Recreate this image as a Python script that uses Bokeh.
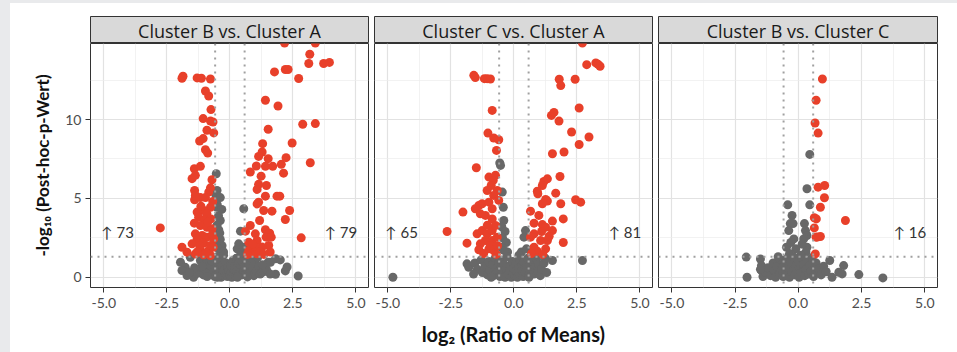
from bokeh.plotting import figure
from bokeh.layouts import row, column
from bokeh.models import Range1d, FixedTicker, NumeralTickFormatter, Span, Div
from bokeh.core.properties import value
from bokeh.embed import file_html
from bokeh.resources import INLINE

# ---------------- data ----------------
panel_titles = ["Cluster B vs. Cluster A", "Cluster C vs. Cluster A", "Cluster B vs. Cluster C"]
left_labels = ["\u2191 73", "\u2191 65", ""]
right_labels = ["\u2191 79", "\u2191 81", "\u2191 16"]

FC_CUT = 0.585   # log2(1.5)
P_CUT = 1.301    # -log10(0.05)

x_ticks = [-5.0, -2.5, 0.0, 2.5, 5.0]
x_minor = [-3.75, -1.25, 1.25, 3.75]
y_ticks = [0, 5, 10]
y_minor = [2.5, 7.5, 12.5]

# Cluster B vs. Cluster A : significant (red) and not significant (grey)
sig_ba = [(-1.86,12.74),(-1.90,12.62),(-1.30,12.64),(-1.13,12.62),(-0.77,12.57),(-0.97,11.81),(-0.84,11.49),
          (-0.75,10.63),(-1.06,10.06),(-0.77,9.9),(-0.67,9.84),(-0.91,9.32),(-0.64,9.15),(-1.06,8.79),(-1.20,8.64),
          (-0.97,8.08),(-0.88,7.87),(-1.41,6.88),(-1.17,7.03),(-1.50,6.25),(-1.37,6.46),(-0.71,6.18),(-0.77,5.67),
          (-0.84,5.40),(-1.40,5.50),(-1.37,5.19),(-1.40,4.91),(-1.17,5.05),(-0.97,5.05),(-0.77,4.44),(-1.04,4.23),
          (-1.30,4.13),(-0.91,4.02),(-1.24,3.81),(-1.01,3.64),(-0.75,3.70),(-1.41,3.43),(-1.17,3.28),(-0.91,3.17),
          (-0.71,3.07),(-1.37,2.75),(-1.10,2.65),(-0.91,2.54),(-1.30,2.43),(-0.64,2.43),(-1.50,2.12),(-1.04,2.16),
          (-0.77,2.01),(-1.17,1.70),(-0.84,1.70),(-1.37,1.48),(-0.77,1.38),(-1.04,1.42),(-1.70,1.59),(-1.90,1.90),
          (-2.76,3.13),(-0.66,1.9),(-0.95,1.55),(-1.2,2.0),(-0.7,2.7),(-0.88,3.5),(-1.15,4.5),(-0.68,4.8),(-1.3,1.6),
          (2.17,14.85),(3.39,14.85),(3.17,14.14),(3.13,13.55),(3.72,13.55),(3.95,13.62),(1.77,13.02),(2.20,13.17),
          (2.31,13.17),(2.73,12.6),(1.41,11.22),(1.91,10.86),(2.89,9.70),(3.39,9.74),(1.52,9.38),(2.47,8.51),
          (1.30,8.47),(1.28,7.94),(1.14,7.66),(1.52,7.52),(1.41,7.03),(1.70,7.03),(1.05,7.05),(2.04,7.16),(2.23,7.58),
          (3.19,7.26),(2.13,6.6),(0.81,6.67),(1.24,6.41),(1.45,5.82),(1.14,5.89),(1.08,5.57),(1.41,5.14),(1.87,5.14),
          (1.98,5.14),(1.14,4.76),(1.08,4.65),(1.34,4.23),(1.67,4.19),(2.37,4.23),(2.20,3.66),(1.18,3.6),(0.81,3.28),
          (1.41,3.01),(1.58,2.79),(1.44,2.54),(1.64,2.54),(0.62,2.92),(1.01,2.75),(1.08,2.33),(0.75,2.22),(1.54,2.01),
          (1.28,1.91),(0.94,1.70),(1.08,1.49),(2.83,2.5),(0.75,1.7),(0.8,1.5),(1.0,1.95),(0.7,1.45),(1.2,1.6),
          (1.35,1.45),(0.9,2.1),(1.6,1.6)]
ns_ba = [(-0.54,6.56),(-0.51,5.5),(-0.55,5.2),(-0.38,5.05),(-0.5,4.6),(-0.51,4.44),(-0.32,4.3),(-0.45,3.9),
         (-0.38,3.6),(-0.51,3.3),(-0.44,3.0),(-0.58,2.7),(-0.38,2.4),(-0.31,2.0),(-0.45,1.8),(-0.25,1.6),(-0.55,2.2),
         (-0.4,2.8),(0.55,4.34),(0.42,2.92),(0.35,2.12),(0.29,1.8),(0.49,1.6),(0.55,1.9),
         (-1.96,0.95),(-1.77,0.63),(-1.57,1.27),(-1.9,0.43),(-1.70,0.11),(-1.44,0.0),(-1.17,1.06),(-1.17,0.5),
         (-0.97,0.85),(-1.30,0.25),(-1.05,0.15),(-0.90,0.4),(-0.85,1.2),(-0.75,0.7),(-0.70,1.0),(-0.65,0.3),
         (-0.60,0.05),(-0.55,0.6),(-0.50,1.3),(-0.48,0.9),(-0.45,0.2),(-0.40,0.5),(-0.38,1.1),(-0.35,0.0),
         (-0.30,0.75),(-0.28,0.35),(-0.25,1.4),(-0.22,0.1),(-0.20,0.55),(-0.15,0.9),(-0.12,0.25),(-0.10,0.05),
         (-0.08,0.65),(-0.05,0.4),(0.0,0.15),(0.02,0.8),(0.05,0.3),(0.08,0.0),(0.10,0.55),(0.12,1.05),(0.15,0.2),
         (0.18,0.45),(0.20,0.7),(0.22,0.05),(0.25,1.2),(0.28,0.35),(0.30,0.6),(0.33,0.1),(0.35,0.9),(0.38,0.25),
         (0.40,1.35),(0.42,0.5),(0.45,0.75),(0.48,0.15),(0.50,1.0),(0.55,0.4),(0.58,0.7),(0.62,0.2),(0.65,1.1),
         (0.70,0.5),(0.75,0.85),(0.80,0.3),(0.85,1.2),(0.90,0.6),(0.95,0.1),(1.0,0.9),(1.05,0.4),(1.10,1.25),
         (1.15,0.7),(1.2,0.2),(1.28,0.3),(1.34,0.36),(1.45,0.5),(1.52,0.95),(1.61,0.95),(1.81,1.17),(1.81,0.19),
         (2.0,1.1),(2.2,0.4),(2.27,0.65),(2.71,0.08),(-0.50,0.0),(0.3,0.0),(-0.9,0.05),(0.7,0.02),(-1.1,0.7),
         (1.3,0.8),(-1.4,0.6),(-1.6,0.3),(1.6,0.2)]

# Cluster C vs. Cluster A
sig_ca = [(-1.59,12.8),(-1.53,12.66),(-1.17,12.59),(-1.06,12.59),(-0.93,12.57),(-0.86,10.58),(-1.03,9.14),
          (-0.80,8.83),(-0.60,8.72),(-0.69,8.04),(-1.49,6.94),(-0.99,6.35),(-0.82,6.14),(-0.73,6.46),(-0.90,5.82),
          (-1.06,5.50),(-0.66,5.50),(-0.80,5.19),(-1.26,4.66),(-1.39,4.55),(-0.99,4.76),(-0.60,4.87),(-2.02,4.13),
          (-1.53,4.34),(-1.33,4.02),(-1.13,3.92),(-0.86,4.34),(-0.86,3.70),(-2.65,2.90),(-1.46,2.75),(-1.26,2.96),
          (-1.06,2.75),(-0.86,2.96),(-0.73,3.28),(-1.13,2.33),(-0.86,2.33),(-0.66,2.54),(-1.86,2.16),(-1.33,2.12),
          (-1.39,1.74),(-0.99,1.80),(-0.80,1.69),(-0.93,2.01),(-1.2,1.5),(-0.7,1.45),(-1.05,3.3),(-0.65,2.0),
          (2.72,14.85),(2.89,13.48),(3.25,13.59),(3.34,13.5),(3.42,13.38),(1.80,12.55),(1.86,12.15),(2.43,12.55),
          (2.59,10.73),(1.49,10.26),(1.59,10.45),(1.79,9.9),(2.29,9.21),(2.98,8.89),(2.59,8.42),(1.53,7.83),
          (1.99,7.94),(1.83,6.39),(1.19,6.07),(1.33,6.24),(1.13,5.82),(0.93,5.46),(0.95,5.29),(1.66,5.33),
          (1.26,4.93),(1.33,4.83),(1.13,4.66),(1.86,4.66),(2.45,4.91),(2.65,4.76),(0.66,4.19),(0.99,3.92),
          (0.80,3.43),(1.13,3.34),(1.26,3.17),(1.53,3.56),(1.53,2.96),(1.96,3.70),(1.96,2.20),(0.80,2.75),
          (1.06,2.33),(0.80,1.90),(1.33,2.33),(0.93,1.65),(1.26,1.80),(0.66,2.54),(1.4,2.6),(1.1,2.9),(0.7,1.5),
          (1.15,1.45)]
ns_ca = [(-0.56,7.24),(-0.53,7.09),(-0.46,5.40),(-0.42,4.44),(-0.40,3.6),(-0.48,3.2),(-0.35,2.9),(-0.45,2.5),
         (-0.3,2.2),(-0.5,1.9),(-0.25,1.6),(-0.4,1.7),(0.46,2.96),(0.40,2.54),(0.3,1.6),(0.5,1.8),(0.2,1.4),
         (2.72,1.06),(-4.80,0.0),(-1.86,0.85),(-1.79,0.63),(1.53,1.06),
         (-1.55,0.9),(-1.45,0.5),(-1.3,1.1),(-1.25,0.3),(-1.15,0.7),(-1.05,0.15),(-1.0,1.0),(-0.95,0.45),
         (-0.85,0.8),(-0.8,0.1),(-0.75,1.2),(-0.7,0.55),(-0.65,0.3),(-0.6,0.9),(-0.55,0.05),(-0.5,0.65),
         (-0.45,1.1),(-0.42,0.3),(-0.38,0.8),(-0.35,0.0),(-0.3,0.5),(-0.27,1.3),(-0.22,0.2),(-0.18,0.7),
         (-0.15,0.4),(-0.1,0.0),(-0.06,1.0),(-0.03,0.25),(0.0,0.6),(0.04,0.1),(0.08,0.85),(0.1,0.35),(0.14,0.0),
         (0.18,0.55),(0.22,1.15),(0.25,0.2),(0.3,0.7),(0.33,0.4),(0.37,0.05),(0.4,0.95),(0.45,0.3),(0.5,0.6),
         (0.55,1.2),(0.6,0.15),(0.65,0.8),(0.7,0.45),(0.75,1.0),(0.8,0.2),(0.85,0.65),(0.9,1.15),(0.95,0.35),
         (1.0,0.8),(1.05,0.1),(1.1,0.5),(1.2,0.9),(1.3,0.3),(-1.6,0.2),(1.25,1.2),(-0.9,0.0),(0.6,0.0)]

# Cluster B vs. Cluster C
sig_bc = [(0.95,12.57),(0.70,11.22),(0.66,9.78),(0.78,9.14),(0.78,5.71),(1.04,5.82),(1.03,5.04),(0.87,4.44),
          (0.63,3.77),(0.71,3.70),(1.86,3.60),(0.63,3.13),(0.70,2.54),(0.87,2.58),(0.75,2.55),(0.67,1.48)]
ns_bc = [(0.45,7.79),(0.34,5.61),(-0.42,4.59),(0.45,4.59),(-0.25,3.92),(-0.32,3.4),(-0.21,3.4),(0.24,3.4),
         (-0.38,2.96),(0.28,2.96),(0.34,2.65),(-0.18,2.43),(0.21,2.43),(-0.47,1.9),(0.34,1.9),(-2.06,1.28),
         (-2.03,0.0),(-1.5,1.16),(-1.46,0.74),(-1.46,0.42),(1.24,1.06),(1.79,0.74),(1.73,0.21),(1.60,0.32),
         (2.39,0.17),(3.34,-0.04),(1.33,0.0),(-0.3,2.2),(0.15,2.1),(-0.1,1.8),(0.3,1.6),(-0.35,1.5),(0.1,1.4),
         (-1.4,0.05),(-1.3,0.3),(-1.2,0.6),(-1.1,0.1),(-1.0,0.9),(-0.95,0.4),(-0.9,0.0),(-0.85,0.7),(-0.75,0.2),
         (-0.7,1.1),(-0.65,0.5),(-0.6,0.05),(-0.55,0.85),(-0.5,0.3),(-0.45,1.2),(-0.4,0.6),(-0.35,0.0),
         (-0.3,0.95),(-0.25,0.35),(-0.2,1.3),(-0.15,0.15),(-0.1,0.7),(-0.05,0.4),(0.0,1.0),(0.03,0.0),
         (0.07,0.55),(0.1,0.25),(0.15,1.2),(0.2,0.8),(0.25,0.1),(0.3,0.5),(0.35,1.05),(0.4,0.2),(0.45,0.75),
         (0.5,0.4),(0.55,1.25),(0.6,0.05),(0.65,0.6),(0.7,0.9),(0.75,0.3),(0.8,0.5),(0.9,0.15),(1.0,0.7),
         (1.1,0.35),(-1.5,0.5),(-0.8,1.3)]

sig_sets = [sig_ba, sig_ca, sig_bc]
ns_sets = [ns_ba, ns_ca, ns_bc]

# ---------------- styling ----------------
FONT = "Lato"
STRIP_FONT = "Open Sans"
RED = "#e8402a"
GREY = "#686868"
PAGE_GREY = "#e9eaec"

widths = [361, 284, 302]
lefts = [80, 3, 3]
rights = [3, 3, 20]

x_range = Range1d(-5.53, 5.5)
y_range = Range1d(-0.65, 14.82)

strips = []
plots = []
for i in range(3):
    # strip header
    s = figure(width=widths[i], height=40, x_range=Range1d(0, 1), y_range=Range1d(0, 1),
               min_border_left=lefts[i], min_border_right=rights[i], min_border_top=13, min_border_bottom=0,
               x_axis_location=None, y_axis_location=None, tools="", toolbar_location=None,
               output_backend="svg")
    s.grid.visible = False
    s.background_fill_color = "#d9d9d9"
    s.border_fill_color = "white"
    s.outline_line_color = "#333333"
    s.outline_line_width = 1
    s.text(x=[0.5], y=[0.47], text=[panel_titles[i]], text_align="center", text_baseline="middle",
           text_font=value(STRIP_FONT), text_font_size="18px", text_color="#1a1a1a")
    strips.append(s)

    p = figure(width=widths[i], height=309, x_range=x_range, y_range=y_range,
               min_border_left=lefts[i], min_border_right=rights[i], min_border_top=0, min_border_bottom=65,
               y_axis_location="left" if i == 0 else None, tools="", toolbar_location=None,
               output_backend="svg")
    p.background_fill_color = "white"
    p.border_fill_color = "white"
    p.outline_line_color = "#333333"
    p.outline_line_width = 1

    p.xgrid.ticker = FixedTicker(ticks=x_ticks, minor_ticks=x_minor)
    p.ygrid.ticker = FixedTicker(ticks=y_ticks, minor_ticks=y_minor)
    for g in (p.xgrid, p.ygrid):
        g.grid_line_color = "#e2e2e2"
        g.grid_line_width = 1.2
        g.minor_grid_line_color = "#ececec"
        g.minor_grid_line_width = 0.7

    xa = p.xaxis[0]
    xa.ticker = FixedTicker(ticks=x_ticks)
    xa.formatter = NumeralTickFormatter(format="0.0")
    xa.axis_line_color = None
    xa.major_tick_line_color = "#333333"
    xa.major_tick_out = 5
    xa.major_tick_in = 0
    xa.minor_tick_line_color = None
    xa.major_label_text_font = FONT
    xa.major_label_text_font_size = "14px"
    xa.major_label_text_color = "#4d4d4d"
    xa.major_label_standoff = 5
    if i == 1:
        xa.axis_label = "log\u2082 (Ratio of Means)"
        xa.axis_label_text_font = FONT
        xa.axis_label_text_font_style = "bold"
        xa.axis_label_text_font_size = "20px"
        xa.axis_label_text_color = "#111111"
        xa.axis_label_standoff = 11

    if i == 0:
        ya = p.yaxis[0]
        ya.ticker = FixedTicker(ticks=y_ticks)
        ya.axis_line_color = None
        ya.major_tick_line_color = "#333333"
        ya.major_tick_out = 5
        ya.major_tick_in = 0
        ya.minor_tick_line_color = None
        ya.major_label_text_font = FONT
        ya.major_label_text_font_size = "14px"
        ya.major_label_text_color = "#4d4d4d"
        ya.major_label_standoff = 4
        ya.axis_label = "-log\u2081\u2080 (Post-hoc-p-Wert)"
        ya.axis_label_text_font = FONT
        ya.axis_label_text_font_style = "bold"
        ya.axis_label_text_font_size = "17px"
        ya.axis_label_text_color = "#111111"
        ya.axis_label_standoff = 9

    for loc in (-FC_CUT, FC_CUT):
        p.add_layout(Span(location=loc, dimension="height", line_color="#a0a0a0",
                          line_width=2, line_dash="2 5"))
    p.add_layout(Span(location=P_CUT, dimension="width", line_color="#a0a0a0",
                      line_width=2, line_dash="2 5"))

    ns = ns_sets[i]
    sg = sig_sets[i]
    p.scatter([a for a, b in ns], [b for a, b in ns], size=9, color=GREY, line_color=None)
    p.scatter([a for a, b in sg], [b for a, b in sg], size=9, color=RED, line_color=None)

    if left_labels[i]:
        p.text(x=[-5.1], y=[2.9], text=[left_labels[i]], text_align="left", text_baseline="middle",
               text_font=value(FONT), text_font_size="15px", text_color="#333333")
    if right_labels[i]:
        p.text(x=[5.05], y=[2.9], text=[right_labels[i]], text_align="right", text_baseline="middle",
               text_font=value(FONT), text_font_size="15px", text_color="#333333")
    plots.append(p)

left_pad = Div(text="", width=10, height=352, margin=(0, 0, 0, 0), styles={"background-color": PAGE_GREY})
top_pad = Div(text="", width=947, height=3, margin=(0, 0, 0, 0), styles={"background-color": PAGE_GREY})
layout = row(left_pad, column(top_pad, row(*strips, spacing=0), row(*plots, spacing=0), spacing=0), spacing=0)

open("out.html", "w").write(file_html(layout, INLINE))
